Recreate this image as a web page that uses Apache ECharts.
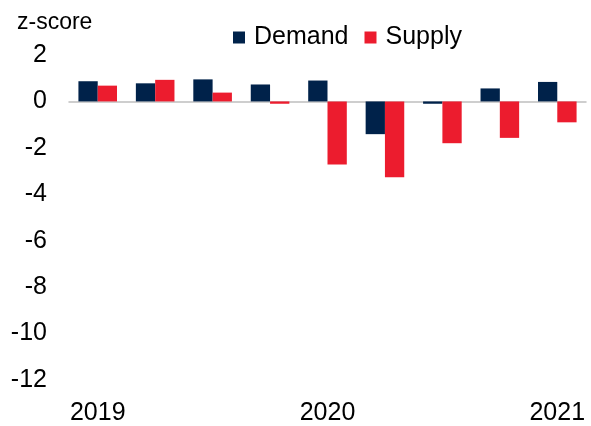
<!DOCTYPE html>
<html>
<head>
<meta charset="utf-8">
<script src="https://cdn.jsdelivr.net/npm/echarts@6/dist/echarts.min.js"></script>
<style>html,body{margin:0;padding:0;background:#fff;}#c{width:591px;height:426px;}</style>
</head>
<body>
<div id="c"></div>
<script>
var categories = ['2019Q1','2019Q2','2019Q3','2019Q4','2020Q1','2020Q2','2020Q3','2020Q4','2021Q1'];
var xTickLabels = ['2019','','','','2020','','','','2021'];
var demand = [0.87, 0.78, 0.95, 0.73, 0.90, -1.41, -0.10, 0.56, 0.84];
var supply = [0.68, 0.93, 0.38, -0.10, -2.72, -3.27, -1.80, -1.57, -0.90];
var yTicks = [-12, -10, -8, -6, -4, -2, 0, 2];

var chart = echarts.init(document.getElementById('c'), null, {renderer: 'canvas'});
var font = 'Liberation Sans, Arial, sans-serif';
chart.setOption({
  animation: false,
  textStyle: {fontFamily: font},
  graphic: [{
    type: 'text', left: 17, top: 11,
    style: {text: 'z-score', font: '23px ' + font, fill: '#000'}
  }],
  legend: {
    data: ['Demand', 'Supply'],
    top: 20, left: 228,
    itemWidth: 12, itemHeight: 12, itemGap: 16,
    icon: 'rect',
    textStyle: {fontSize: 25, color: '#000', fontFamily: font, padding: [0, 0, 0, 4]}
  },
  grid: {left: 69, right: 5, top: 55, bottom: 41, containLabel: false},
  xAxis: {
    type: 'category',
    data: categories,
    axisLine: {show: true, onZero: true, lineStyle: {color: '#BFBFBF', width: 1.5}},
    axisTick: {show: false},
    axisLabel: {
      interval: 0, margin: 21, fontSize: 25, color: '#000', fontFamily: font,
      formatter: function (v, i) { return xTickLabels[i]; }
    }
  },
  yAxis: {
    type: 'value',
    min: yTicks[0], max: yTicks[yTicks.length - 1], interval: 2,
    splitLine: {show: false},
    axisLine: {show: false},
    axisTick: {show: false},
    axisLabel: {margin: 22, fontSize: 25, color: '#000', fontFamily: font}
  },
  series: [
    {name: 'Demand', type: 'bar', data: demand, barWidth: '33.6%', barGap: '0%',
     itemStyle: {color: '#00224A'}},
    {name: 'Supply', type: 'bar', data: supply, barWidth: '33.6%', barGap: '0%',
     itemStyle: {color: '#EC1C2E'}}
  ]
});
</script>
</body>
</html>
